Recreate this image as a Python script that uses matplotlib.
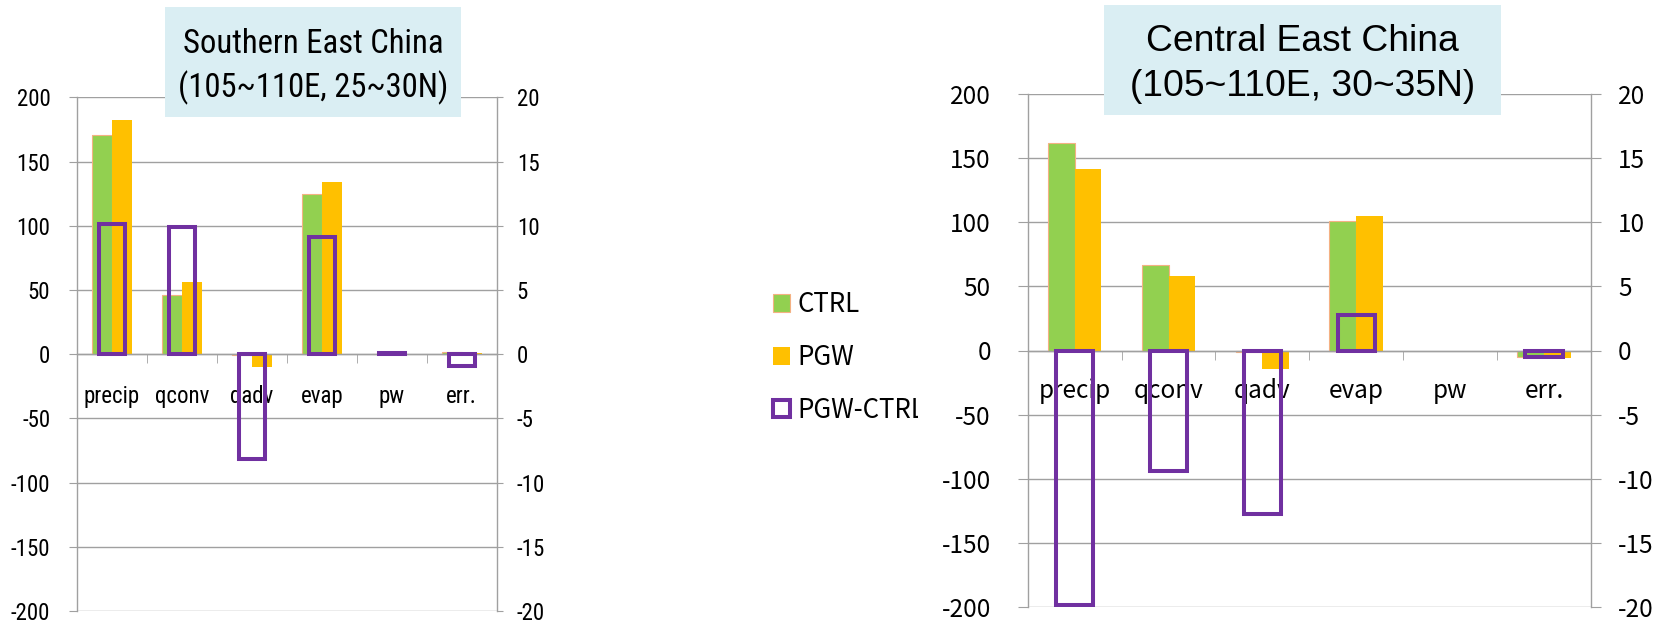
import numpy as np
import matplotlib
matplotlib.use("Agg")
import matplotlib.pyplot as plt
from matplotlib.patches import Patch, Rectangle
from matplotlib.font_manager import FontProperties
from matplotlib.transforms import Bbox

plt.rcParams["axes.unicode_minus"] = False

# --- moisture budget terms ---
categories = ["precip", "qconv", "qadv", "evap", "pw", "err."]

# Southern East China (105~110E, 25~30N)
south_ctrl = [171, 46, -1, 125, 0, 2.0]
south_pgw = [182, 56, -10, 134, 0, 1.2]
south_diff = [10.1, 9.9, -8.2, 9.1, 0.1, -0.9]

# Central East China (105~110E, 30~35N)
central_ctrl = [161.5, 66.5, -1, 101, np.nan, -5.0]
central_pgw = [141.7, 58, -14.5, 104.7, np.nan, -5.5]
central_diff = [-19.8, -9.4, -12.7, 2.8, np.nan, -0.5]

series_labels = ["CTRL", "PGW", "PGW-CTRL"]
left_ticks = list(range(-200, 201, 50))
right_ticks = list(range(-20, 21, 5))

GREEN = "#92D050"
ORANGE = "#FFC000"
PURPLE = "#7030A0"
CTRL_EDGE = "#F4B183"
GRID = "#A0A0A0"
BOX = "#DAEEF3"

NARROW = ["Roboto Condensed", "Liberation Sans"]
KR = ["Noto Sans CJK KR", "DejaVu Sans"]

W, H = 1669, 623
fig = plt.figure(figsize=(W / 100, H / 100), dpi=100)


def px_rect(x0, y0, x1, y1):
    # pixel box (top-left origin) -> figure fraction [l, b, w, h]
    return [x0 / W, 1 - y1 / H, (x1 - x0) / W, (y1 - y0) / H]


def draw_panel(rect, ctrl, pgw, diff, family, size, diff_w, ltick, rtick, lpad, rpad, xpad):
    ax = fig.add_axes(rect)
    ax2 = ax.twinx()
    x = np.arange(len(categories))
    w = 2 / 7

    ax.bar(x - w / 2, ctrl, width=w, color=GREEN, edgecolor=CTRL_EDGE, linewidth=0.8)
    ax.bar(x + w / 2, pgw, width=w, color=ORANGE, linewidth=0)
    ax2.bar(x, diff, width=diff_w, facecolor="none", edgecolor=PURPLE, linewidth=2.9)

    ax.set_xlim(-0.5, len(categories) - 0.5)
    ax.set_ylim(-200, 200)
    ax2.set_ylim(-20, 20)
    ax.set_yticks(left_ticks)
    ax2.set_yticks(right_ticks)
    ax.set_xticks(x)
    ax.set_xticklabels(categories)
    ax.set_xticks(x[:-1] + 0.5, minor=True)

    ax.set_axisbelow(True)
    ax.yaxis.grid(True, color=GRID, linewidth=1.0)
    ax.spines["bottom"].set_position(("data", 0))
    for side in ["top", "right"]:
        ax.spines[side].set_visible(False)
    for side in ["top", "bottom", "left"]:
        ax2.spines[side].set_visible(False)
    for sp in [ax.spines["left"], ax.spines["bottom"], ax2.spines["right"]]:
        sp.set_color(GRID)
        sp.set_linewidth(1.0)

    ax.tick_params(axis="y", length=ltick, color=GRID, pad=lpad,
                   labelsize=size, labelfontfamily=family)
    ax2.tick_params(axis="y", length=rtick, color=GRID, pad=rpad,
                    labelsize=size, labelfontfamily=family)
    ax.tick_params(axis="x", which="major", length=0, pad=xpad,
                   labelsize=size, labelfontfamily=family)
    ax.tick_params(axis="x", which="minor", length=6.5, color=GRID, direction="out")
    return ax, ax2


draw_panel(px_rect(76.7, 97.3, 496.7, 611), south_ctrl, south_pgw, south_diff,
           NARROW, 16.5, 0.375, 5.5, 4.5, 13.5, 10, 22)
draw_panel(px_rect(1027.7, 93.7, 1591, 607.3), central_ctrl, central_pgw, central_diff,
           KR, 17.5, 0.4, 7.5, 7.0, 19, 12.5, 20)

# region title boxes
for (x0, y0, x1, y1), lines, family, fs in [
    ((165, 6.7, 461, 116.7), ["Southern East China", "(105~110E, 25~30N)"], NARROW, 23.5),
    ((1104, 5, 1500.7, 114.7), ["Central East China", "(105~110E, 30~35N)"],
     ["Liberation Sans", "DejaVu Sans"], 26.8),
]:
    l, b, bw, bh = px_rect(x0, y0, x1, y1)
    fig.patches.append(Rectangle((l, b), bw, bh, transform=fig.transFigure,
                                 facecolor=BOX, edgecolor="none", zorder=5))
    cx = (x0 + x1) / 2 / W
    for line, base in zip(lines, [y0 + 46, y0 + 90.5]):
        fig.text(cx, 1 - base / H, line, ha="center", va="baseline",
                 family=family, fontsize=fs, zorder=6)

handles = [
    Patch(facecolor=GREEN, edgecolor=CTRL_EDGE, linewidth=0.8),
    Patch(facecolor=ORANGE, edgecolor="none"),
    Patch(facecolor="white", edgecolor=PURPLE, linewidth=2.9),
]
leg = fig.legend(handles, series_labels, loc="upper left",
                 bbox_to_anchor=(773.3 / W, 1 - 291 / H), frameon=False,
                 prop=FontProperties(family=KR, size=18.6),
                 handlelength=0.65, handleheight=0.68, handletextpad=0.3,
                 labelspacing=1.0, borderpad=0, borderaxespad=0)
for t in leg.get_texts():
    t.set_clip_box(Bbox.from_extents(0, 0, 918, H))
    t.set_clip_on(True)

fig.savefig("out.png", dpi=100)
